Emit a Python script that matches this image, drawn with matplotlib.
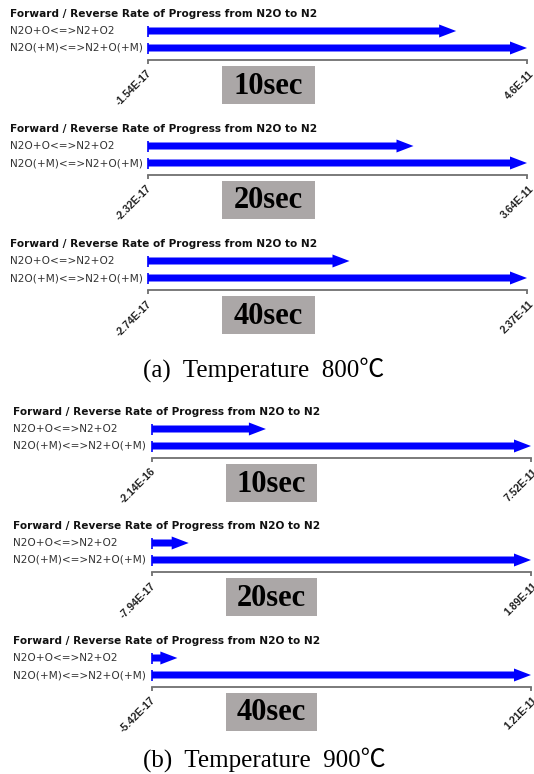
import matplotlib
matplotlib.use("Agg")
import matplotlib.pyplot as plt
from matplotlib.patches import Rectangle, ArrowStyle

W, H = 534, 774
DPI = 100

# ---- data -------------------------------------------------------------
title_text = "Forward / Reverse Rate of Progress from N2O to N2"
reactions = ["N2O+O<=>N2+O2", "N2O(+M)<=>N2+O(+M)"]
times = ["10sec", "20sec", "40sec"]

# 800 C
a_min = [-1.54e-17, -2.32e-17, -2.74e-17]
a_max = [4.6e-11, 3.64e-11, 2.37e-11]
a_min_labels = ["-1.54E-17", "-2.32E-17", "-2.74E-17"]
a_max_labels = ["4.6E-11", "3.64E-11", "2.37E-11"]
a_rate_o = [3.74e-11, 2.55e-11, 1.26e-11]      # N2O+O<=>N2+O2
a_rate_m = [4.6e-11, 3.64e-11, 2.37e-11]       # N2O(+M)<=>N2+O(+M)

# 900 C
b_min = [-2.14e-16, -7.94e-17, -5.42e-17]
b_max = [7.52e-11, 1.89e-11, 1.21e-11]
b_min_labels = ["-2.14E-16", "-7.94E-17", "-5.42E-17"]
b_max_labels = ["7.52E-11", "1.89E-11", "1.21E-11"]
b_rate_o = [2.26e-11, 1.83e-12, 8.1e-13]
b_rate_m = [7.52e-11, 1.89e-11, 1.21e-11]

captions = ["(a)  Temperature  800\u2103", "(b)  Temperature  900\u2103"]

# ---- layout (pixels) ---------------------------------------------------
panel_tops = [[0, 115, 230], [398, 512, 627]]
x_starts = [148, 152]
x_ends = [527, 531]
label_x = [10, 13]
box_x = [(222, 315), (226, 317)]
caption_y = [370, 760]

BLUE = "#0000ff"
GREY_AX = "#707070"
BOX_GREY = "#aba7a7"

sans = ["DejaVu Sans"]
tick_sans = ["Liberation Sans", "DejaVu Sans"]
serif = ["Liberation Serif", "Noto Sans CJK JP", "DejaVu Serif"]

fig = plt.figure(figsize=(W / DPI, H / DPI), dpi=DPI)
fig.patch.set_facecolor("white")


def fx(px):
    return px / W


def fy(py):
    return 1 - py / H


def px2pt(px):
    return px * 72.0 / DPI


arrow_style = ArrowStyle.Simple(head_length=1.7, head_width=1.3, tail_width=0.7)

groups = [
    (a_min, a_max, a_min_labels, a_max_labels, a_rate_o, a_rate_m),
    (b_min, b_max, b_min_labels, b_max_labels, b_rate_o, b_rate_m),
]

for g, (vmin, vmax, lmin, lmax, r_o, r_m) in enumerate(groups):
    for k in range(3):
        top = panel_tops[g][k]
        y_row1 = top + 31
        y_row2 = top + 48
        y_axis = top + 60
        ax_top = top + 22
        x0, x1 = x_starts[g], x_ends[g]

        ax = fig.add_axes([fx(x0), fy(y_axis), fx(x1 - x0), (y_axis - ax_top) / H])
        ax.set_xlim(vmin[k], vmax[k])
        # rows: 1 -> N2O+O, 0 -> N2O(+M); 17 px between rows
        step = y_row2 - y_row1
        ax.set_ylim(-(y_axis - y_row2) / step, 1 + (y_row1 - ax_top) / step)
        ax.patch.set_alpha(0)
        for s in ("top", "left", "right"):
            ax.spines[s].set_visible(False)
        ax.spines["bottom"].set_color(GREY_AX)
        ax.spines["bottom"].set_linewidth(1.3)
        ax.set_yticks([])
        ax.set_xticks([vmin[k], vmax[k]])
        ax.set_xticklabels([])
        ax.tick_params(axis="x", direction="out", length=px2pt(4), width=1.3,
                       color=GREY_AX)

        # arrows
        for row, val in ((1, r_o[k]), (0, r_m[k])):
            ax.annotate("", xy=(val, row), xytext=(0, row),
                        arrowprops=dict(arrowstyle=arrow_style, mutation_scale=px2pt(10),
                                        color=BLUE, lw=0, shrinkA=0, shrinkB=0),
                        annotation_clip=False)
            ax.plot([0], [row], marker="|", ms=px2pt(11), mew=1.2, color=BLUE,
                    clip_on=False)

        # end-value labels, rotated 45 degrees
        for val, lab, dx in ((vmin[k], lmin[k], px2pt(2)), (vmax[k], lmax[k], px2pt(5))):
            ax.annotate(lab, xy=(val, 0), xycoords=("data", "axes fraction"),
                        xytext=(dx, -px2pt(12)), textcoords="offset points",
                        rotation=45, rotation_mode="anchor", ha="right", va="center",
                        fontsize=7.6, fontweight="bold", color="#222222",
                        family=tick_sans, annotation_clip=False)

        # title and reaction names
        fig.text(fx(label_x[g]), fy(top + 14), title_text, fontsize=7.6,
                 fontweight="bold", family=sans, ha="left", va="center", color="#111111")
        for name, yy in zip(reactions, (y_row1, y_row2)):
            fig.text(fx(label_x[g]), fy(yy), name, fontsize=7.6, family=sans,
                     ha="left", va="center", color="#333333")

        # time box
        bx0, bx1 = box_x[g]
        by0, by1 = top + 66, top + 104
        fig.patches.append(Rectangle((fx(bx0), fy(by1)), fx(bx1 - bx0), (by1 - by0) / H,
                                     transform=fig.transFigure, facecolor=BOX_GREY,
                                     edgecolor="none"))
        fig.text(fx((bx0 + bx1) / 2), fy((by0 + by1) / 2 + 1), times[k], fontsize=22,
                 fontweight="bold", family=serif, ha="center", va="center", color="black")

    fig.text(fx(264), fy(caption_y[g]), captions[g], fontsize=18, family=serif,
             ha="center", va="center", color="black")

fig.savefig("out.png", dpi=DPI, facecolor="white")
